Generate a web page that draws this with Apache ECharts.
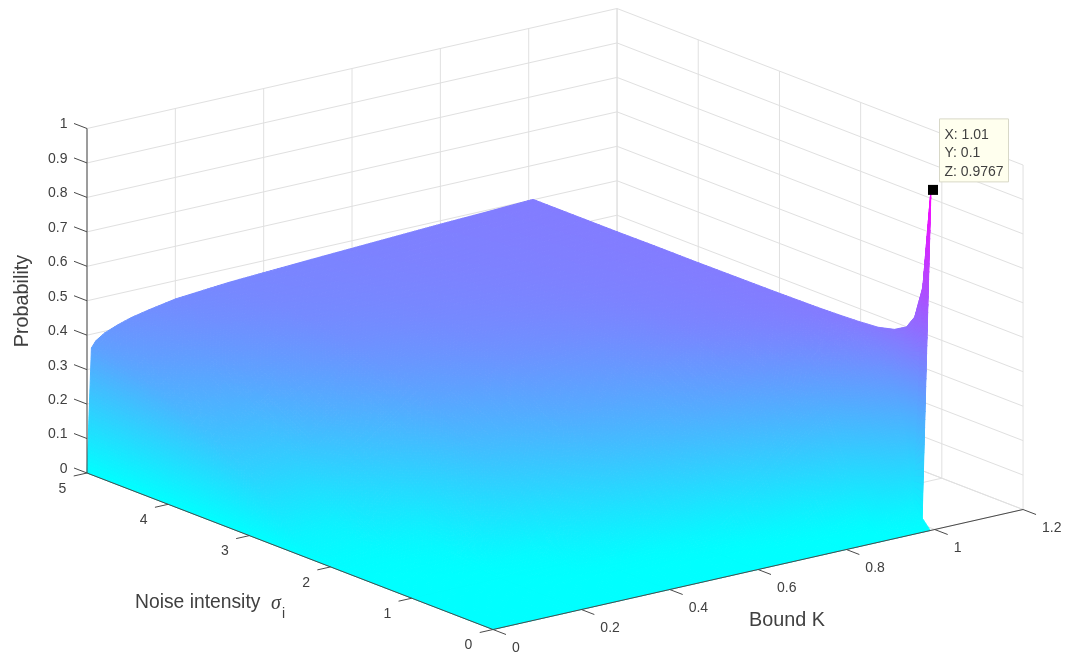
<!DOCTYPE html>
<html>
<head>
<meta charset="utf-8">
<script src="https://cdn.jsdelivr.net/npm/echarts@6/dist/echarts.min.js"></script>
<style>html,body{margin:0;padding:0;background:#fff}#c{width:1065px;height:654px}</style>
</head>
<body>
<div id="c"></div>
<script>
// ---- data ----
const boundTicks = [0, 0.2, 0.4, 0.6, 0.8, 1, 1.2];
const sigmaTicks = [0, 1, 2, 3, 4, 5];
const probTicks = [0, 0.1, 0.2, 0.3, 0.4, 0.5, 0.6, 0.7, 0.8, 0.9, 1];
const sigmaValues = [0, 0.1, 0.2, 0.3, 0.4, 0.55, 0.75, 1, 1.25, 1.5, 1.75, 2, 2.5, 3, 3.5, 4, 4.5, 5];
const boundValues = [0, 0.01, 0.02, 0.04, 0.07, 0.1, 0.14, 0.2, 0.32, 0.5, 0.65, 0.8, 0.9, 0.99, 1.01];
const probK000 = [0, 0, 0, 0, 0, 0, 0, 0, 0, 0, 0, 0, 0, 0, 0, 0, 0, 0];
const probK001 = [0, 0, 0, 0, 0, 0, 0, 0, 0, 0, 0, 0.01, 0.035, 0.15, 0.23, 0.29, 0.335, 0.36];
const probK002 = [0, 0, 0, 0, 0, 0, 0, 0, 0, 0, 0.002, 0.01, 0.037, 0.16, 0.24, 0.3, 0.35, 0.378];
const probK004 = [0, 0, 0, 0, 0, 0, 0, 0, 0, 0, 0.003, 0.01, 0.04, 0.17, 0.255, 0.32, 0.37, 0.395];
const probK007 = [0, 0, 0, 0, 0, 0, 0, 0, 0, 0.001, 0.004, 0.012, 0.045, 0.18, 0.27, 0.335, 0.385, 0.41];
const probK010 = [0, 0, 0, 0, 0, 0, 0, 0, 0, 0.002, 0.005, 0.015, 0.05, 0.19, 0.28, 0.35, 0.395, 0.422];
const probK014 = [0, 0, 0, 0, 0, 0, 0, 0, 0.001, 0.004, 0.01, 0.03, 0.12, 0.25, 0.32, 0.375, 0.41, 0.433];
const probK020 = [0, 0, 0, 0, 0, 0, 0, 0, 0.002, 0.01, 0.025, 0.05, 0.2, 0.31, 0.365, 0.4, 0.43, 0.447];
const probK032 = [0, 0, 0, 0, 0, 0, 0.002, 0.007, 0.025, 0.12, 0.2, 0.26, 0.34, 0.39, 0.425, 0.445, 0.455, 0.46];
const probK050 = [0, 0, 0, 0, 0, 0.002, 0.012, 0.08, 0.19, 0.27, 0.32, 0.35, 0.41, 0.44, 0.455, 0.462, 0.468, 0.472];
const probK065 = [0, 0, 0, 0, 0.001, 0.007, 0.05, 0.2, 0.29, 0.33, 0.37, 0.4, 0.44, 0.46, 0.47, 0.476, 0.479, 0.481];
const probK080 = [0, 0, 0, 0.001, 0.008, 0.05, 0.2, 0.31, 0.38, 0.42, 0.45, 0.465, 0.475, 0.48, 0.484, 0.486, 0.488, 0.49];
const probK090 = [0, 0, 0.002, 0.01, 0.04, 0.18, 0.3, 0.39, 0.44, 0.47, 0.48, 0.485, 0.488, 0.49, 0.492, 0.493, 0.494, 0.495];
const probK099 = [0, 0.027, 0.06, 0.25, 0.34, 0.41, 0.46, 0.49, 0.497, 0.5, 0.5, 0.5, 0.5, 0.5, 0.5, 0.5, 0.5, 0.5];
const probK101 = [null, 0.9767, 0.683, 0.587, 0.549, 0.528, 0.516, 0.511, 0.508, 0.506, 0.505, 0.504, 0.503, 0.502, 0.502, 0.501, 0.501, 0.501];
const probRows = [probK000, probK001, probK002, probK004, probK007, probK010, probK014, probK020, probK032, probK050, probK065, probK080, probK090, probK099, probK101];
const tipPoint = [1.01, 0.1, 0.9767];
const tipLines = ['X: 1.01', 'Y: 0.1', 'Z: 0.9767'];
const axisNames = { bound: 'Bound K', sigma: 'Noise intensity ', sigmaSym: 'σ', sigmaSub: 'i', prob: 'Probability' };

// ---- orthographic view of the 3D box onto the hidden 2D axes ----
const VIEW = { x0: 493, y0: 629.5, kx: 441.7, ky: -100, sx: -81.2, sy: -31.3, zy: -344.5 };
function project(k, s, z) {
  return [VIEW.x0 + k * VIEW.kx + s * VIEW.sx, VIEW.y0 + k * VIEW.ky + s * VIEW.sy + z * VIEW.zy];
}
const K_MAX = 1.2, S_MAX = 5, Z_MAX = 1, DATA_MAX = 0.9767;

function coolColor(z) {
  const t = Math.min(1, Math.max(0, z / DATA_MAX));
  return 'rgb(' + Math.round(255 * t) + ',' + Math.round(255 * (1 - t)) + ',255)';
}

// ---- grid, box and axis segments in data space ----
const gridSegs = [];
boundTicks.forEach(k => {
  gridSegs.push([[k, S_MAX, 0], [k, S_MAX, Z_MAX]]);
  gridSegs.push([[k, 0, 0], [k, S_MAX, 0]]);
});
sigmaTicks.forEach(s => {
  gridSegs.push([[K_MAX, s, 0], [K_MAX, s, Z_MAX]]);
  gridSegs.push([[0, s, 0], [K_MAX, s, 0]]);
});
probTicks.forEach(z => {
  gridSegs.push([[0, S_MAX, z], [K_MAX, S_MAX, z]]);
  gridSegs.push([[K_MAX, 0, z], [K_MAX, S_MAX, z]]);
});
const axisSegs = [
  [[0, 0, 0], [K_MAX, 0, 0]],
  [[0, 0, 0], [0, S_MAX, 0]],
  [[0, S_MAX, 0], [0, S_MAX, Z_MAX]]
];
boundTicks.forEach(k => axisSegs.push([[k, 0, 0], [k, -0.16, 0]]));
sigmaTicks.forEach(s => axisSegs.push([[0, s, 0], [-0.03, s, 0]]));
probTicks.forEach(z => axisSegs.push([[0, S_MAX, z], [0, S_MAX + 0.16, z]]));

const tickLabels = [];
boundTicks.forEach(k => tickLabels.push({ p: [k, 0, 0], t: String(k), dx: 19, dy: 18.5, a: 'left' }));
sigmaTicks.forEach(s => tickLabels.push({ p: [0, s, 0], t: String(s), dx: -24.5, dy: 16, a: 'center' }));
probTicks.forEach(z => tickLabels.push({ p: [0, S_MAX, z], t: String(z), dx: -19.5, dy: -4, a: 'right' }));

// ---- surface cells, far to near ----
const cells = [];
for (let i = boundValues.length - 2; i >= 0; i--) {
  for (let j = sigmaValues.length - 2; j >= 0; j--) {
    // no value at a corner: the surface has no cell there
    if (probRows[i][j] !== null && probRows[i + 1][j] !== null && probRows[i][j + 1] !== null && probRows[i + 1][j + 1] !== null) {
      cells.push([i, j]);
    }
  }
}
function vertex(i, j) { return [boundValues[i], sigmaValues[j], probRows[i][j]]; }
function mix(a, b, t) { return a + (b - a) * t; }

function renderCell(params, api) {
  const i = api.value(0), j = api.value(1);
  const c00 = vertex(i, j), c10 = vertex(i + 1, j), c01 = vertex(i, j + 1), c11 = vertex(i + 1, j + 1);
  const px = c => api.coord(project(c[0], c[1], c[2]));
  const p00 = px(c00), p10 = px(c10), p01 = px(c01), p11 = px(c11);
  const len = (a, b) => Math.hypot(a[0] - b[0], a[1] - b[1]);
  const STEP = 4, CAP = 40;
  const nk = Math.min(CAP, Math.max(1, Math.ceil(Math.max(len(p00, p10), len(p01, p11)) / STEP)));
  const ns = Math.min(CAP, Math.max(1, Math.ceil(Math.max(len(p00, p01), len(p10, p11)) / STEP)));
  const grid = [];
  for (let a = 0; a <= nk; a++) {
    const row = [];
    for (let b = 0; b <= ns; b++) {
      const u = a / nk, v = b / ns;
      row.push({
        x: mix(mix(p00[0], p10[0], u), mix(p01[0], p11[0], u), v),
        y: mix(mix(p00[1], p10[1], u), mix(p01[1], p11[1], u), v),
        z: mix(mix(c00[2], c10[2], u), mix(c01[2], c11[2], u), v)
      });
    }
    grid.push(row);
  }
  const children = [];
  for (let a = nk - 1; a >= 0; a--) {
    for (let b = ns - 1; b >= 0; b--) {
      const q = [grid[a][b], grid[a + 1][b], grid[a + 1][b + 1], grid[a][b + 1]];
      const col = coolColor((q[0].z + q[1].z + q[2].z + q[3].z) / 4);
      children.push({
        type: 'polygon',
        silent: true,
        shape: { points: q.map(o => [o.x, o.y]) },
        style: { fill: col, stroke: col, lineWidth: 1 }
      });
    }
  }
  return { type: 'group', children };
}

function segSeries(segs, color, width, z) {
  return {
    type: 'custom', coordinateSystem: 'cartesian2d', silent: true, animation: false, z,
    data: segs.map((s, i) => [i]),
    encode: { x: 0, y: 0 },
    renderItem: (params, api) => {
      const seg = segs[api.value(0)];
      const a = api.coord(project(seg[0][0], seg[0][1], seg[0][2]));
      const b = api.coord(project(seg[1][0], seg[1][1], seg[1][2]));
      return {
        type: 'line', silent: true,
        shape: { x1: a[0], y1: a[1], x2: b[0], y2: b[1] },
        style: { stroke: color, lineWidth: width, fill: null }
      };
    }
  };
}

const FONT = '"Liberation Sans", Arial, sans-serif';
const option = {
  animation: false,
  backgroundColor: '#ffffff',
  grid: { left: 0, right: 0, top: 0, bottom: 0 },
  xAxis: { type: 'value', min: 0, max: 1065, show: false },
  yAxis: { type: 'value', min: 0, max: 654, inverse: true, show: false },
  series: [
    segSeries(gridSegs, '#e0e0e0', 1, 1),
    {
      type: 'custom', coordinateSystem: 'cartesian2d', silent: true, animation: false, z: 2,
      progressive: 0,
      data: cells,
      encode: { x: 0, y: 1 },
      renderItem: renderCell
    },
    segSeries(axisSegs, '#4a4a4a', 1, 3),
    {
      type: 'custom', coordinateSystem: 'cartesian2d', silent: true, animation: false, z: 4,
      data: tickLabels.map((l, i) => [i]),
      encode: { x: 0, y: 0 },
      renderItem: (params, api) => {
        const l = tickLabels[api.value(0)];
        const c = api.coord(project(l.p[0], l.p[1], l.p[2]));
        return {
          type: 'text', silent: true,
          x: c[0] + l.dx, y: c[1] + l.dy,
          style: { text: l.t, fill: '#404040', font: '14px ' + FONT, align: l.a, verticalAlign: 'middle' }
        };
      }
    },
    {
      type: 'custom', coordinateSystem: 'cartesian2d', silent: true, animation: false, z: 5,
      data: [tipPoint],
      encode: { x: 0, y: 1 },
      renderItem: (params, api) => {
        const c = api.coord(project(api.value(0), api.value(1), api.value(2)));
        const cx = c[0] + 2, cy = c[1] + 1;
        const children = [
          { type: 'rect', shape: { x: cx - 5, y: cy - 5, width: 10, height: 10 }, style: { fill: '#000' } },
          { type: 'rect', shape: { x: cx + 6.5, y: cy - 71, width: 69, height: 63 },
            style: { fill: '#ffffee', stroke: '#d8d8c8', lineWidth: 1 } }
        ];
        tipLines.forEach((t, i) => children.push({
          type: 'text', x: cx + 11.5, y: cy - 55 + i * 18.6,
          style: { text: t, fill: '#404040', font: '14px ' + FONT, align: 'left', verticalAlign: 'middle' }
        }));
        return { type: 'group', children };
      }
    }
  ],
  graphic: { elements: [
    { type: 'text', silent: true, z: 10, left: 135, top: 593, style: { text: axisNames.sigma, fill: '#404040', font: '19.3px ' + FONT } },
    { type: 'text', silent: true, z: 10, left: 271, top: 594, style: { text: axisNames.sigmaSym, fill: '#404040', font: 'italic 20px "Liberation Serif", serif' } },
    { type: 'text', silent: true, z: 10, left: 282, top: 607, style: { text: axisNames.sigmaSub, fill: '#404040', font: '14px ' + FONT } },
    { type: 'text', silent: true, z: 10, left: 749, top: 611, style: { text: axisNames.bound, fill: '#404040', font: '19.8px ' + FONT } },
    { type: 'text', silent: true, z: 10, x: 23, y: 301, rotation: Math.PI / 2,
      style: { text: axisNames.prob, fill: '#404040', font: '19.8px ' + FONT, align: 'center', verticalAlign: 'middle' } }
  ] }
};
const chart = echarts.init(document.getElementById('c'), null, { renderer: 'canvas' });
chart.setOption(option);
</script>
</body>
</html>
